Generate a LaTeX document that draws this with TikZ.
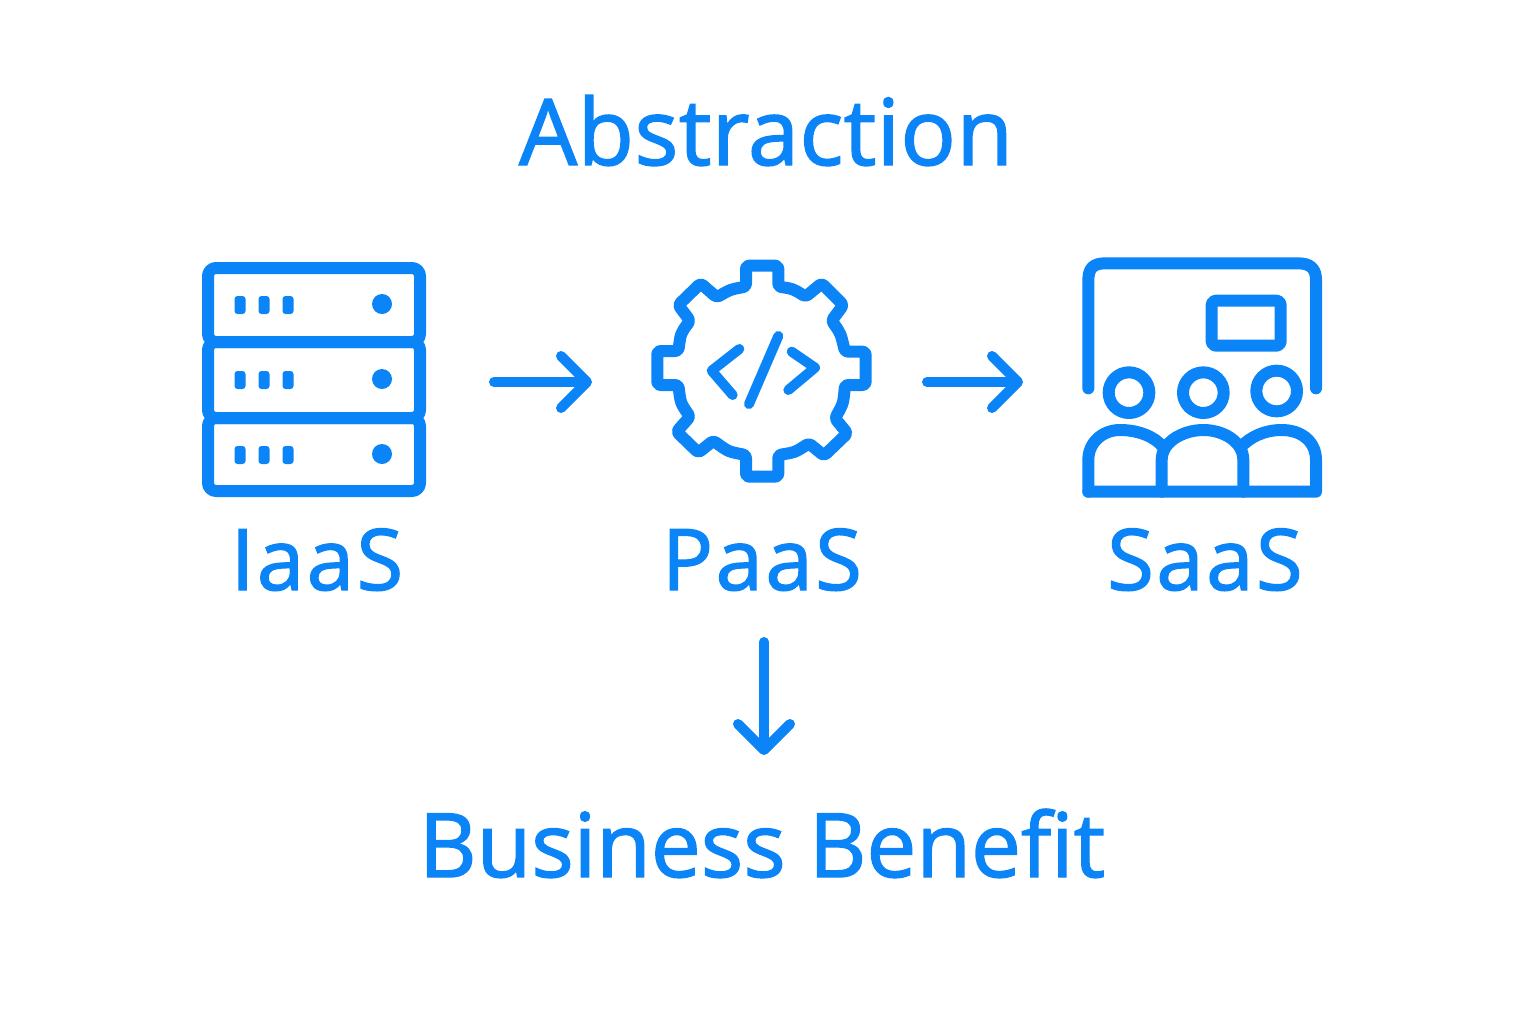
\documentclass[tikz,border=0pt]{standalone}
\usepackage{fontspec}
\setmainfont{Open Sans}[FakeBold=1.6]
\usetikzlibrary{arrows.meta,calc}
\definecolor{iconblue}{HTML}{0B84F8}
\tikzset{
    iconline/.style={draw=iconblue, line width=6pt, line join=round, line cap=round},
    flow/.style={draw=iconblue, line width=5pt, line cap=round,
        -{Straight Barb[length=13pt,width=26pt,round]}},
    iconbox/.style={inner sep=0pt, outer sep=0pt},
    word/.style={text=iconblue, inner sep=0pt, anchor=base},
    titleword/.style={word, font=\fontsize{46}{46}\selectfont\addfontfeature{LetterSpace=0.5}},
    footword/.style={word, font=\fontsize{44.5}{45}\selectfont},
    smallword/.style={word, font=\fontsize{42.5}{43}\selectfont\addfontfeature{LetterSpace=3}},
}
\begin{document}
\begin{tikzpicture}[x=0.5pt,y=-0.5pt]
    \useasboundingbox (0,0) rectangle (1536,1024);

    % labels
    \node[titleword] (abstraction) at (766,165) {Abstraction};
    \node[smallword] (iaaslabel) at (317,590) {IaaS};
    \node[smallword] (paaslabel) at (762,590) {PaaS};
    \node[smallword] (saaslabel) at (1205,590) {SaaS};
    \node[footword] (benefit) at (762,877) {Business Benefit};

    % icon boxes, only used for the arrows
    \node[iconbox, minimum width=112pt, minimum height=118pt] (iaas) at (314,382) {};
    \node[iconbox, minimum width=110pt, minimum height=110pt] (paas) at (762,382) {};
    \node[iconbox, minimum width=120pt, minimum height=120pt] (saas) at (1202,382) {};

    % server rack
    \foreach \top/\bot/\mid in {268/342/305, 342/418/380, 418/491/455} {
        \draw[iconline, rounded corners=4pt] (208,\top) rectangle (420,\bot);
        \foreach \xdot in {240,264,288}
            \fill[iconblue, rounded corners=1.5pt] (\xdot-5.5,\mid-9) rectangle (\xdot+5.5,\mid+9);
        \fill[iconblue] (382,\mid-1) circle (5pt);
    }

    % gear
    \begin{scope}[shift={(640,250)},scale=1/3]
        \draw[iconline, rounded corners=1.5pt]
            (318,80) -- (318,47) -- (415,47) -- (415,110)
            .. controls (458,116) .. (497,140) -- (545,100) -- (610,165) -- (575,212)
            .. controls (602,250) .. (615,305) -- (677,305) -- (677,405) -- (615,405)
            .. controls (610,460) .. (585,505) -- (622,550) -- (552,617) -- (507,580)
            .. controls (465,607) .. (415,615) -- (415,680) -- (318,680) -- (318,615)
            .. controls (265,605) .. (220,572) -- (175,608) -- (110,545) -- (150,500)
            .. controls (122,460) .. (115,405) -- (52,405) -- (52,303) -- (115,303)
            .. controls (122,250) .. (150,212) -- (115,165) -- (182,100) -- (230,142)
            .. controls (272,118) .. (318,110) -- cycle;
        \draw[iconline, line width=5pt] (298,297) -- (215,362) -- (278,435);
        \draw[iconline, line width=5pt] (415,258) -- (327,462);
        \draw[iconline, line width=5pt] (455,305) -- (525,353) -- (445,420);
    \end{scope}

    % audience in front of a screen
    \begin{scope}[shift={(1070,250)},scale=1/3]
        \draw[iconline] (55,415) -- (55,90)
            .. controls (55,55) and (70,40) .. (105,40) -- (685,40)
            .. controls (720,40) and (738,55) .. (738,90) -- (738,415);
        \draw[iconline, rounded corners=2pt] (425,152) rectangle (632,287);
        \foreach \xc/\yc in {177/428, 400/428, 620/423}
            \draw[iconline] (\xc,\yc) circle (61);
        \draw[iconline]
            (55,725) -- (55,630) .. controls (55,575) and (100,540) .. (150,540)
            .. controls (205,540) and (255,560) .. (280,592);
        \draw[iconline]
            (275,725) -- (275,630) .. controls (275,575) and (340,540) .. (400,540)
            .. controls (460,540) and (520,575) .. (520,630) -- (520,725);
        \draw[iconline]
            (512,592) .. controls (540,560) and (585,540) .. (635,540)
            .. controls (695,540) and (738,575) .. (738,630) -- (738,725) -- (55,725);
    \end{scope}

    % connectors
    \draw[flow, shorten <=34pt, shorten >=30pt] (iaas) -- (paas);
    \draw[flow, shorten <=27.5pt, shorten >=29.5pt] (paas) -- (saas);
    \draw[flow, shorten <=26pt, shorten >=61pt] ([xshift=1pt]paaslabel.base) -- ([xshift=1pt]benefit.base);
\end{tikzpicture}
\end{document}
